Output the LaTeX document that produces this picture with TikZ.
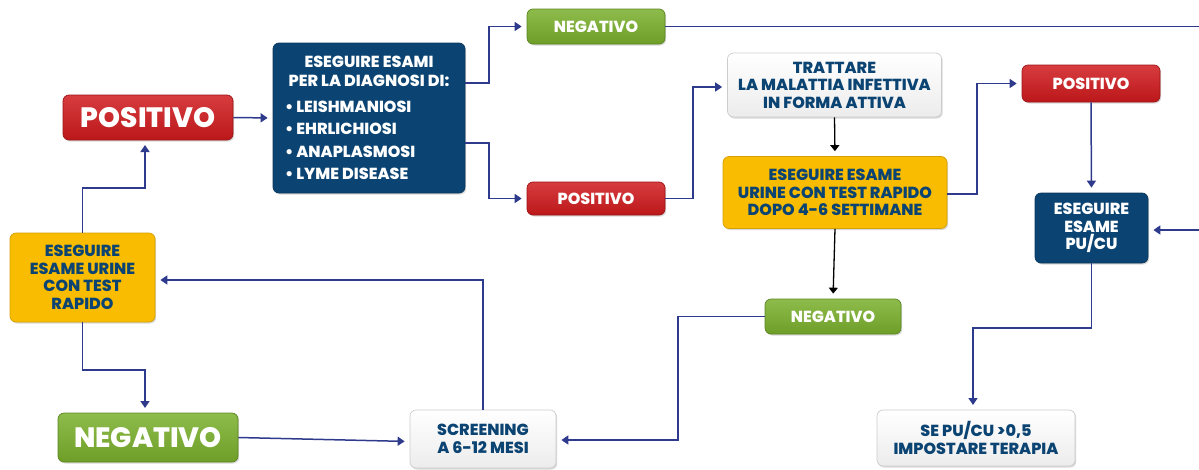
\documentclass[tikz,border=0pt]{standalone}
\usepackage{fontspec}
\setmainfont{Poppins}[BoldFont={Poppins ExtraBold}]
\usetikzlibrary{arrows.meta,shadows}
\definecolor{navy}{HTML}{2E3A8C}
\definecolor{dblue}{HTML}{0B4472}
\definecolor{redc}{HTML}{D01A1D}
\definecolor{greenc}{HTML}{7AB02C}
\definecolor{yellowc}{HTML}{F9BC00}
\definecolor{grayc}{HTML}{ECECEC}
\tikzset{
  base/.style={rounded corners=6pt, font=\bfseries\fontsize{16}{17.5}\selectfont, align=center, inner sep=2pt, line width=0.7pt,
    drop shadow={opacity=0.3,shadow xshift=1.2pt,shadow yshift=-1.5pt}},
  redbox/.style={base, top color=redc!85!white, bottom color=redc!90!black, draw=redc!75!black, text=white},
  greenbox/.style={base, top color=greenc!85!white, bottom color=greenc!90!black, draw=greenc!75!black, text=white},
  bluebox/.style={base, fill=dblue, draw=dblue!80!black, text=white},
  yellowbox/.style={base, fill=yellowc, draw=yellowc!85!black, text=dblue},
  graybox/.style={base, top color=white, bottom color=grayc, draw=gray!40, text=dblue},
  big/.style={font=\bfseries\fontsize{28}{30}\selectfont},
  arr/.style={draw=navy, line width=1.5pt, -{Triangle[length=7pt,width=9pt]}, shorten >=5pt},
  line/.style={draw=navy, line width=1.5pt},
  barr/.style={draw=black, line width=1.3pt, -{Triangle[length=6pt,width=9pt]}, shorten >=5pt},
}
\begin{document}
\begin{tikzpicture}[x=1pt,y=-1pt]
\useasboundingbox (0,0) rectangle (1199,469);
% nodes
\node[redbox, big, minimum width=170pt, minimum height=45pt] (posBig) at (148,117.5) {POSITIVO};
\node[bluebox, minimum width=192pt, minimum height=150pt, align=left] (diag) at (369,118)
  {\parbox{168pt}{\fontsize{16}{19}\selectfont\centering ESEGUIRE ESAMI\\PER LA DIAGNOSI DI:\par\vspace{3pt}\raggedright
   \fontsize{16}{22.5}\selectfont
   \textbullet\ LEISHMANIOSI\\ \textbullet\ EHRLICHIOSI\\ \textbullet\ ANAPLASMOSI\\ \textbullet\ LYME DISEASE}};
\node[greenbox, minimum width=138pt, minimum height=35pt] (negTop) at (596,26.5) {NEGATIVO};
\node[redbox, minimum width=138pt, minimum height=33pt] (posSmall) at (596,198.5) {POSITIVO};
\node[graybox, minimum width=214pt, minimum height=64pt] (trattare) at (834.5,85) {TRATTARE\\LA MALATTIA INFETTIVA\\IN FORMA ATTIVA};
\node[yellowbox, minimum width=224pt, minimum height=72pt] (yellowMid) at (835,192.5) {ESEGUIRE ESAME\\URINE CON TEST RAPIDO\\DOPO 4-6 SETTIMANE};
\node[greenbox, minimum width=136pt, minimum height=35pt] (negMid) at (833,316.5) {NEGATIVO};
\node[redbox, minimum width=138pt, minimum height=37pt] (posRight) at (1091,83.5) {POSITIVO};
\node[bluebox, minimum width=113pt, minimum height=70pt] (pucu) at (1091.5,228) {ESEGUIRE\\ESAME\\PU/CU};
\node[graybox, minimum width=198pt, minimum height=56pt] (sepucu) at (976,438) {SE PU/CU >0,5\\IMPOSTARE TERAPIA};
\node[yellowbox, minimum width=145pt, minimum height=89pt] (yellowLeft) at (82.5,277.5) {ESEGUIRE\\ESAME URINE\\CON TEST\\RAPIDO};
\node[greenbox, big, minimum width=180pt, minimum height=49pt] (negBig) at (148,437.5) {NEGATIVO};
\node[graybox, minimum width=146pt, minimum height=58pt] (screening) at (483,439) {SCREENING\\A 6-12 MESI};
\coordinate (outTop) at (1199,26.5);
\coordinate (inRight) at (1199,230);
% connectors
\draw[arr] (yellowLeft.north) -- (82.5,188) -| (145,140);
\draw[arr] (posBig.east) -- (diag.west);
\draw[arr] ([yshift=35pt]diag.east) -- (489,83) |- (negTop.west);
\draw[arr] ([yshift=-25pt]diag.east) -- (489,143) |- (posSmall.west);
\draw[line] (negTop.east) -- (outTop);
\draw[arr] (posSmall.east) -- (693,198.5) |- ([yshift=-2pt]trattare.west);
\draw[barr] (trattare.south) -- (yellowMid.north);
\draw[arr] ([yshift=-1.5pt]yellowMid.east) -- (977,194) |- (posRight.west);
\draw[barr] (yellowMid.south) -- (negMid.north);
\draw[arr] (posRight.south) -- (pucu.north);
\draw[arr] (inRight) -- ([yshift=-2pt]pucu.east);
\draw[arr] (pucu.south) -- (1091.5,328) -| (973,410);
\draw[arr] (negMid.west) -- (678,316.5) |- ([yshift=-1pt]screening.east);
\draw[arr] (screening.north) -- (483,280) -- ([yshift=-2.5pt]yellowLeft.east);
\draw[arr] (yellowLeft.south) -- (82.5,370) -| (145,413);
\draw[arr] (negBig.east) -- ([yshift=-2.5pt]screening.west);
\end{tikzpicture}
\end{document}
